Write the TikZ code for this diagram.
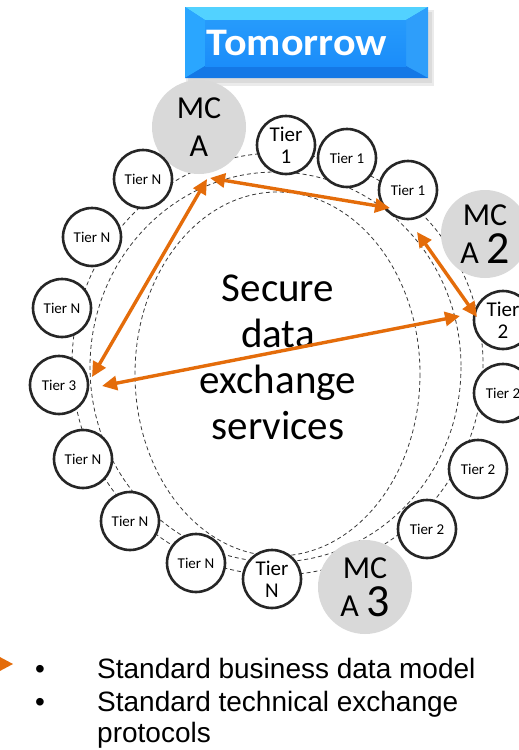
\documentclass[tikz,border=0pt]{standalone}
\usepackage{fontspec}
\setmainfont{Carlito}
\newfontfamily\arialf{Liberation Sans}
\usetikzlibrary{arrows.meta}
\definecolor{orng}{HTML}{E46C0A}
\definecolor{mcagray}{HTML}{D9D9D9}
\definecolor{ringcol}{HTML}{262626}
\definecolor{bvtop}{HTML}{52D2FF}
\definecolor{bvleft}{HTML}{2AA6FF}
\definecolor{bvright}{HTML}{2E9EFA}
\definecolor{bvbot}{HTML}{1478E6}
\definecolor{bvface}{HTML}{1B8DFA}
\begin{document}
\begin{tikzpicture}[x=1pt,y=-1pt,
  tier/.style={circle, draw=ringcol, line width=2.6pt, fill=white, minimum size=58pt, inner sep=0pt, align=center, font=\fontsize{15}{18}\selectfont},
  tierbig/.style={tier, font=\fontsize{21}{22}\selectfont},
  mca/.style={circle, fill=mcagray, minimum size=94pt, inner sep=0pt, align=center, font=\fontsize{32}{38}\selectfont},
  dashring/.style={draw=black!78, line width=0.8pt, dash pattern=on 4pt off 3pt},
  link/.style={draw=orng, line width=3.4pt, {Triangle[length=15pt,width=14pt]}-{Triangle[length=15pt,width=14pt]}},
  bultext/.style={anchor=base west, inner sep=0pt, font=\arialf\fontsize{28}{32}\selectfont}
]
\useasboundingbox (0,0) rectangle (519,750);
\clip (0,0) rectangle (519,750);
\fill[white] (0,0) rectangle (519,750);

% Tomorrow box
\fill[black!25, opacity=0.5] (188,12) rectangle (432,83);
\fill[black!15, opacity=0.5] (186,10) rectangle (434,86);
\fill[bvface] (185,7) rectangle (428,78);
\fill[bvtop] (185,7) -- (428,7) -- (406,20) -- (205,20) -- cycle;
\fill[bvleft] (185,7) -- (205,20) -- (205,66) -- (185,78) -- cycle;
\fill[bvright] (428,7) -- (406,20) -- (406,66) -- (428,78) -- cycle;
\fill[bvbot] (185,78) -- (205,66) -- (406,66) -- (428,78) -- cycle;
\shade[top color=bvface!80!bvtop, bottom color=bvface] (205,20) rectangle (406,66);
\node[text=white, font=\fontsize{39}{40}\selectfont\bfseries, inner sep=0pt] (tom) at (297,43) {\scalebox{1.08}[1]{Tomorrow}};

% dashed rings
\draw[dashring] (277.5,364) ellipse [x radius=205.5, y radius=211];
\draw[dashring] (275.5,367) ellipse [x radius=185.5, y radius=195];
\draw[dashring] (277.5,374) ellipse [x radius=142.5, y radius=182];

% MCA circles
\node[mca] (mcaA) at (199,127) {MC\\A};
\node[mca, minimum size=88pt] (mcaB) at (485,234) {MC\\A {\fontsize{46}{38}\selectfont 2}};
\node[mca] (mcaC) at (365,587) {MC\\A {\fontsize{46}{38}\selectfont 3}};

% tier circles
\node[tierbig] (t1a) at (286,145) {Tier\\1};
\node[tier] (t1b) at (347,158) {Tier 1};
\node[tier] (t1c) at (408,190) {Tier 1};
\node[tierbig] (t2a) at (503,320) {Tier\\2};
\node[tier] (t2b) at (503,393) {Tier 2};
\node[tier] (t2c) at (478,469) {Tier 2};
\node[tier] (t2d) at (427,529) {Tier 2};
\node[tierbig] (tNa) at (272,579) {Tier\\N};
\node[tier] (tNb) at (196,563) {Tier N};
\node[tier] (tNc) at (130,521) {Tier N};
\node[tier] (tNd) at (83,459) {Tier N};
\node[tier] (t3) at (59,385) {Tier 3};
\node[tier] (tNe) at (62,308) {Tier N};
\node[tier] (tNf) at (92,237) {Tier N};
\node[tier] (tNg) at (143,179) {Tier N};

% centre text
\node[align=center, font=\fontsize{41}{46}\selectfont, inner sep=0pt] (core) at (278,357) {Secure\\data\\exchange\\services};

% arrow end points
\coordinate (pA1) at (210,178);
\coordinate (pA2) at (207,179);
\coordinate (p1c) at (390,208);
\coordinate (p1d) at (417,232);
\coordinate (p2a) at (477,317);
\coordinate (p2b) at (460,316);
\coordinate (p3a) at (92,377);
\coordinate (p3b) at (102,386);

\draw[link] (pA1) -- (p1c);
\draw[link] (pA2) -- (p3a);
\draw[link] (p1d) -- (p2a);
\draw[link] (p3b) -- (p2b);

% bottom legend
\fill[orng] (-2,656) -- (13,664) -- (-2,672) -- cycle;
\node[bultext] (b1) at (35,678) {•};
\node[bultext] (b2) at (35,711) {•};
\node[bultext] (l1) at (97,678) {Standard business data model};
\node[bultext] (l2) at (97,711) {Standard technical exchange};
\node[bultext] (l3) at (97,742) {protocols};
\end{tikzpicture}
\end{document}
